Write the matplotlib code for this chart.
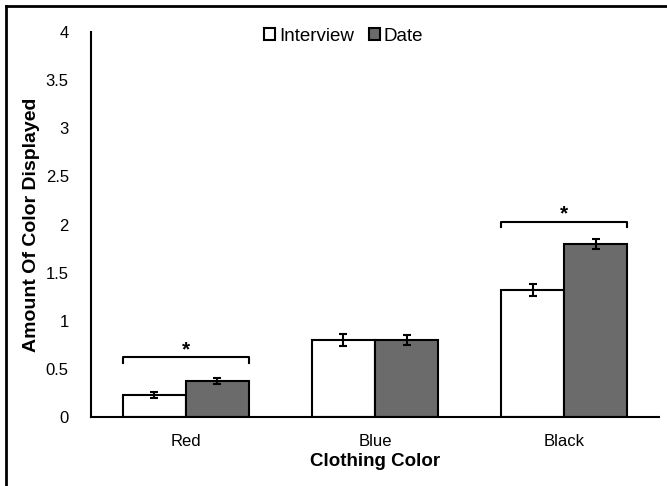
import matplotlib.pyplot as plt
from matplotlib.lines import Line2D
import numpy as np

plt.rcParams['font.family'] = ['Liberation Sans', 'DejaVu Sans']

# data
categories = ['Red', 'Blue', 'Black']
interview = [0.23, 0.80, 1.32]
interview_err = [0.03, 0.06, 0.06]
date = [0.37, 0.80, 1.80]
date_err = [0.03, 0.05, 0.05]
# significance brackets: (category index, bracket height)
brackets = [(0, 0.62), (2, 2.03)]

fig = plt.figure(figsize=(6.67, 4.86), dpi=100)
ax = fig.add_axes([0.1364, 0.142, 0.8516, 0.792])

x = np.arange(len(categories))
w = 0.333
ax.bar(x - w / 2, interview, w, color='white', edgecolor='black', linewidth=1.5,
       label='Interview', zorder=2)
ax.bar(x + w / 2, date, w, color='#6b6b6b', edgecolor='black', linewidth=1.5,
       label='Date', zorder=2)
ax.errorbar(x - w / 2, interview, yerr=interview_err, fmt='none', ecolor='black',
            elinewidth=1.5, capsize=3, capthick=1.5, zorder=3)
ax.errorbar(x + w / 2, date, yerr=date_err, fmt='none', ecolor='black',
            elinewidth=1.5, capsize=3, capthick=1.5, zorder=3)

# brackets with stars
for i, h in brackets:
    x0, x1 = i - w, i + w
    ax.plot([x0, x0, x1, x1], [h - 0.06, h, h, h - 0.06], color='black', lw=1.5)
    ax.text(i, h - 0.02, '*', ha='center', va='bottom', fontsize=15, fontweight='bold')

ax.set_xlim(-0.5, 2.5)
ax.set_ylim(0, 4)
ax.set_yticks([0, 0.5, 1, 1.5, 2, 2.5, 3, 3.5, 4])
ax.set_yticklabels(['0', '0.5', '1', '1.5', '2', '2.5', '3', '3.5', '4'])
ax.set_xticks(x)
ax.set_xticklabels(categories)
ax.tick_params(axis='both', length=0, labelsize=12, colors='black')
ax.tick_params(axis='y', pad=16)
ax.tick_params(axis='x', pad=12)
for s in ['top', 'right']:
    ax.spines[s].set_visible(False)
ax.spines['left'].set_linewidth(1.5)
ax.spines['bottom'].set_linewidth(1.5)

ax.set_xlabel('Clothing Color', fontsize=13.5, fontweight='bold', labelpad=3)
ax.set_ylabel('Amount Of Color Displayed', fontsize=14, fontweight='bold', labelpad=4)

ax.legend(loc='upper center', bbox_to_anchor=(0.445, 1.055), ncol=2, frameon=False,
          fontsize=13.5, handlelength=0.6, handleheight=0.6, handletextpad=0.2,
          columnspacing=0.8)

# frame lines on left and top of the picture
fig.add_artist(Line2D([0.009, 0.009], [0, 0.988], color='black', lw=2))
fig.add_artist(Line2D([0.009, 1], [0.988, 0.988], color='black', lw=2))

fig.savefig('out.png', dpi=100)
